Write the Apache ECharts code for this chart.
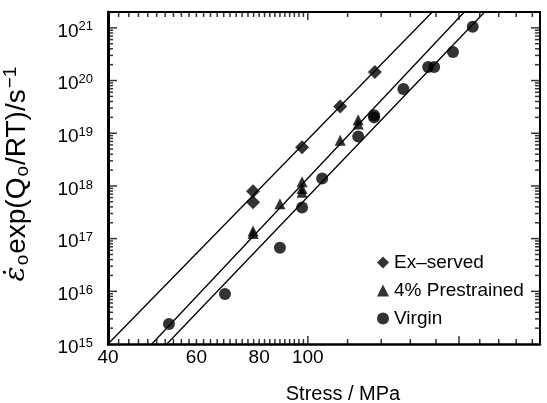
<!DOCTYPE html>
<html><head><meta charset="utf-8">
<script src="https://cdn.jsdelivr.net/npm/echarts@6/dist/echarts.min.js"></script>
<style>html,body{margin:0;padding:0;background:#fff}#c{width:547px;height:403px}</style>
</head><body><div id="c"></div>
<script>
// ---- data (stress MPa, strain-rate parameter s^-1) ----
const exServed = [[77.8,7.9e17],[77.8,4.9e17],[97.4,5.4e18],[116,3.2e19],[136,1.45e20]];
const prestrained = [[77.8,1.4e17],[77.8,1.25e17],[88,4.6e17],[97.4,1.2e18],[97.4,8.9e17],[97.4,7.6e17],[116,7.4e18],[126,1.5e19],[126,1.8e19]];
const virgin = [[52.9,2.4e15],[68.4,8.9e15],[88,6.7e16],[97.4,3.9e17],[106.8,1.38e18],[126,8.7e18],[135.5,2.0e19],[135.5,2.2e19],[155,6.9e19],[173.6,1.8e20],[178.5,1.8e20],[194.6,3.5e20],[213,1.05e21]];
const fitEx = [[40,1e15],[177,2e21]];
const fitPre = [[48.9,1e15],[205,2e21]];
const fitVir = [[52.4,1e15],[225,2e21]];
const xTickLabels = [40,60,80,100];
const yTickExponents = [15,16,17,18,19,20,21];
const seriesNames = ['Ex–served','4% Prestrained','Virgin'];
const xRange = [40,290];
const yRange = [1e15,2e21];

// ---- helpers ----
const L = Math.log10;
const tr = arr => arr.map(p => [L(p[0]), L(p[1])]);
const xLo = L(xRange[0]), xHi = L(xRange[1]), yLo = L(yRange[0]), yHi = L(yRange[1]);

// tick positions (log units)
const xMinorV = [], xMajorV = [100,200].map(L);
for (let v = 42; v < 100; v += 2) xMinorV.push(L(v));
[120,140,160,180,220,240,260,280].forEach(v => xMinorV.push(L(v)));
const yMajorV = [16,17,18,19,20,21], yMinorV = [];
for (let e = 15; e <= 21; e++) for (let k = 2; k <= 9; k++) { const v = e + L(k); if (v < yHi) yMinorV.push(v); }

// ticks drawn as thin rect symbols anchored on the frame, pointing inward
function tickSeries(vals, side, len){
  const isX = side === 'bottom' || side === 'top';
  const data = vals.map(v => isX ? [v, side === 'bottom' ? yLo : yHi] : [side === 'left' ? xLo : xHi, v]);
  const size = isX ? [1.5, len] : [len, 1.5];
  const off = side === 'bottom' ? [0, -len/2] : side === 'top' ? [0, len/2] : side === 'left' ? [len/2, 0] : [-len/2, 0];
  return {type:'scatter', data, symbol:'rect', symbolSize:size, symbolOffset:off,
    itemStyle:{color:'#000'}, silent:true, clip:false, z:6, emphasis:{disabled:true}};
}

const FONT = 'Liberation Sans, Arial, Helvetica, sans-serif';
function xAx(pos, labels, w){
  return {type:'value', position:pos, min:xLo, max:xHi,
    axisLine:{show:true, onZero:false, lineStyle:{color:'#000', width:w}},
    axisTick:{show:false},
    axisLabel: labels ? {show:true, customValues:labels.map(L), margin:4, color:'#000', fontFamily:FONT, fontSize:19,
      formatter: v => String(Math.round(Math.pow(10, v)))} : {show:false},
    splitLine:{show:false}};
}
function yAx(pos, labels, w){
  return {type:'value', position:pos, min:yLo, max:yHi,
    axisLine:{show:true, onZero:false, lineStyle:{color:'#000', width:w}},
    axisTick:{show:false},
    axisLabel: labels ? {show:true, customValues:labels, margin:15, color:'#000', fontFamily:FONT, padding:[7,0,0,0],
      formatter: v => '{b|10}{s|' + Math.round(v) + '}',
      rich:{b:{fontSize:19, fontFamily:FONT, color:'#000'}, s:{fontSize:13, fontFamily:FONT, color:'#000', verticalAlign:'bottom', padding:[0,0,9,0]}}} : {show:false},
    splitLine:{show:false}};
}
const xAxes = [xAx('bottom', xTickLabels, 2.5), xAx('top', null, 2)];
xAxes[0].name = 'Stress / MPa';
xAxes[0].nameLocation = 'middle';
xAxes[0].nameGap = 40;
xAxes[0].nameTextStyle = {fontFamily:FONT, fontSize:20, color:'#000', padding:[0,0,0,38]};
const yAxes = [yAx('left', yTickExponents, 3), yAx('right', null, 2)];
yAxes[0].name = '{e|ε̇}{sub|o}{a|exp(Q}{sub|o}{a|/RT)/s}{sup|−1}';
yAxes[0].nameLocation = 'middle';
yAxes[0].nameGap = 75;
yAxes[0].nameRotate = 90;
yAxes[0].nameTextStyle = {fontFamily:FONT, fontSize:28, color:'#000', padding:[0,0,0,8], rich:{
  a:{fontSize:28, fontFamily:FONT, color:'#000'},
  e:{fontSize:28, fontFamily:'DejaVu Serif, serif', fontStyle:'italic', color:'#000'},
  sub:{fontSize:19, fontFamily:FONT, color:'#000', verticalAlign:'top', padding:[12,1,0,1]},
  sup:{fontSize:19, fontFamily:FONT, color:'#000', verticalAlign:'bottom', padding:[0,0,13,1]}}};

const chart = echarts.init(document.getElementById('c'), null, {renderer:'canvas'});
chart.setOption({
  animation:false,
  backgroundColor:'#fff',
  grid:{left:108, right:7, top:12, bottom:59, containLabel:false, outerBoundsMode:'none'},
  xAxis:xAxes,
  yAxis:yAxes,
  legend:{orient:'vertical', left:372, top:248, itemGap:9, itemWidth:12, itemHeight:12,
    textStyle:{fontFamily:FONT, fontSize:19, color:'#000'},
    data:[{name:seriesNames[0], icon:'diamond'},{name:seriesNames[1], icon:'triangle'},{name:seriesNames[2], icon:'circle'}]},
  series:[
    {type:'line', data:tr(fitEx), symbol:'none', lineStyle:{color:'#000', width:1.3}, silent:true, clip:true},
    {type:'line', data:tr(fitPre), symbol:'none', lineStyle:{color:'#000', width:1.3}, silent:true, clip:true},
    {type:'line', data:tr(fitVir), symbol:'none', lineStyle:{color:'#000', width:1.3}, silent:true, clip:true},
    {name:seriesNames[0], type:'scatter', data:tr(exServed), symbol:'diamond', symbolSize:14, itemStyle:{color:'#000'}},
    {name:seriesNames[1], type:'scatter', data:tr(prestrained), symbol:'triangle', symbolSize:11, itemStyle:{color:'#000'}},
    {name:seriesNames[2], type:'scatter', data:tr(virgin), symbol:'circle', symbolSize:12, itemStyle:{color:'#000'}},
    tickSeries(xMinorV, 'bottom', 5), tickSeries(xMajorV, 'bottom', 8),
    tickSeries(xMinorV, 'top', 5), tickSeries(xMajorV, 'top', 8),
    tickSeries(yMinorV, 'left', 5), tickSeries(yMajorV, 'left', 9),
    tickSeries(yMinorV, 'right', 5), tickSeries(yMajorV, 'right', 9)
  ]
});
</script></body></html>
